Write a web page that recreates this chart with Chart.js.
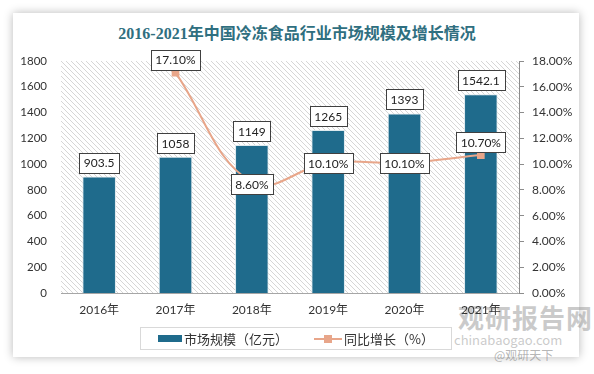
<!DOCTYPE html>
<html>
<head>
<meta charset="utf-8">
<script src="https://cdn.jsdelivr.net/npm/chart.js@4.4.1/dist/chart.umd.min.js"></script>
<style>
    html, body { margin: 0; padding: 0; background: #fff; }
    #wrap { position: relative; width: 594px; height: 374px; overflow: hidden; }
    #card {
        position: absolute; left: 13px; top: 13px; width: 566px; height: 344px;
        background: #fff; box-shadow: 0 0 9px rgba(0, 0, 0, 0.28);
    }
    #title {
        position: absolute; left: 0; top: 20px; width: 594px; text-align: center;
        font: bold 16px "Liberation Serif", "Noto Sans CJK SC", serif; color: #2f6f80;
    }
    #legend {
        position: absolute; left: 140px; top: 327px; width: 312px; height: 23px;
        border: 1px solid #d9d9d9; box-sizing: border-box;
        font: 13px "Noto Sans CJK SC", sans-serif; color: #333;
        display: flex; align-items: center; justify-content: center; gap: 26px;
    }
    .lg { display: flex; align-items: center; }
    .sw-bar { width: 24px; height: 7px; background: #1f6b8c; margin-right: 2px; }
    .sw-line { position: relative; width: 28px; height: 2px; background: #e8a68a; margin-right: 2px; }
    .sw-line span { position: absolute; left: 10px; top: -3px; width: 8px; height: 8px; background: #e8a68a; }
    #wm { position: absolute; left: 458px; top: 302px; white-space: nowrap; color: rgba(150,150,150,0.5); font-family: "Noto Sans CJK SC", sans-serif; }
    #wm .a { font-size: 26px; font-weight: bold; letter-spacing: 1px; line-height: 30px; }
    #wm .b { font-size: 13px; line-height: 15px; margin-left: -4px; }
    #wm .c { font-size: 12px; line-height: 16px; margin-left: 36px; color: rgba(120,120,120,0.55); }
    canvas { position: absolute; left: 0; top: 0; }
</style>
</head>
<body>
<div id="wrap">
    <div id="card"></div>
    <div id="title">2016-2021年中国冷冻食品行业市场规模及增长情况</div>
    <div id="wm"><div class="a">观研报告网</div><div class="b">chinabaogao.com</div><div class="c">@观研天下</div></div>
    <canvas id="chart" width="594" height="374"></canvas>
    <div id="legend">
        <div class="lg"><div class="sw-bar"></div>市场规模（亿元）</div>
        <div class="lg"><div class="sw-line"><span></span></div>同比增长（%）</div>
    </div>
</div>
<script>
const years = ["2016年", "2017年", "2018年", "2019年", "2020年", "2021年"];
const marketSize = [903.5, 1058, 1149, 1265, 1393, 1542.1];
const growthRate = [null, 17.1, 8.6, 10.1, 10.1, 10.7];
const sizeLabels = ["903.5", "1058", "1149", "1265", "1393", "1542.1"];
const rateLabels = ["", "17.10%", "8.60%", "10.10%", "10.10%", "10.70%"];

// diagonal hatch for the plot background
function makeHatch() {
    const c = document.createElement("canvas");
    c.width = 5; c.height = 5;
    const g = c.getContext("2d");
    g.strokeStyle = "#d6d6d6";
    g.lineWidth = 1;
    g.beginPath();
    g.moveTo(-1, -1); g.lineTo(6, 6);
    g.moveTo(-1, 4); g.lineTo(1, 6);
    g.moveTo(4, -1); g.lineTo(6, 1);
    g.stroke();
    return g.createPattern(c, "repeat");
}

const hatchPlugin = {
    id: "hatch",
    beforeDatasetsDraw(chart) {
        const { ctx, chartArea: a } = chart;
        ctx.save();
        ctx.fillStyle = makeHatch();
        ctx.fillRect(a.left, a.top, a.right - a.left, a.bottom - a.top);
        ctx.restore();
    }
};

function drawBox(ctx, text, cx, cy) {
    ctx.font = "12px Lato, sans-serif";
    const w = ctx.measureText(text).width + 9;
    const h = 20;
    ctx.fillStyle = "#fff";
    ctx.fillRect(Math.round(cx - w / 2) + 0.5, Math.round(cy - h / 2) + 0.5, Math.round(w), h);
    ctx.strokeStyle = "#404040";
    ctx.lineWidth = 1;
    ctx.strokeRect(Math.round(cx - w / 2) + 0.5, Math.round(cy - h / 2) + 0.5, Math.round(w), h);
    ctx.fillStyle = "#222";
    ctx.textAlign = "center";
    ctx.textBaseline = "middle";
    ctx.fillText(text, cx, cy + 1);
}

const labelPlugin = {
    id: "boxLabels",
    afterDatasetsDraw(chart) {
        const ctx = chart.ctx;
        ctx.save();
        chart.getDatasetMeta(1).data.forEach((bar, i) => {
            drawBox(ctx, sizeLabels[i], bar.x, bar.y - 14);
        });
        // line labels: some sit above the point, others centred on it
        const lift = [0, 13, -2, 0, 0, 13];
        chart.getDatasetMeta(0).data.forEach((pt, i) => {
            if (growthRate[i] === null) return;
            drawBox(ctx, rateLabels[i], pt.x, pt.y - lift[i]);
        });
        ctx.restore();
    }
};

new Chart(document.getElementById("chart"), {
    data: {
        labels: years,
        datasets: [
            {
                type: "line",
                label: "同比增长（%）",
                data: growthRate,
                yAxisID: "y1",
                borderColor: "#e8a68a",
                backgroundColor: "#e8a68a",
                borderWidth: 2,
                tension: 0.4,
                pointStyle: "rect",
                pointRadius: 4,
                order: 0
            },
            {
                type: "bar",
                label: "市场规模（亿元）",
                data: marketSize,
                yAxisID: "y",
                backgroundColor: "#1f6b8c",
                borderColor: "#dde9ee",
                borderWidth: 1,
                barPercentage: 0.44,
                categoryPercentage: 1,
                order: 1
            }
        ]
    },
    plugins: [hatchPlugin, labelPlugin],
    options: {
        responsive: false,
        animation: false,
        layout: { padding: { top: 61, bottom: 51, left: 0, right: 0 } },
        plugins: { legend: { display: false }, title: { display: false }, tooltip: { enabled: false } },
        scales: {
            x: {
                grid: { display: false, drawTicks: false },
                border: { display: true, color: "#a6a6a6" },
                ticks: { color: "#333", font: { size: 12, family: "Lato, 'Noto Sans CJK SC'" }, padding: 10 },
                afterFit(s) { s.height = 30; }
            },
            y: {
                position: "left",
                min: 0, max: 1800,
                ticks: { stepSize: 200, color: "#333", font: { size: 11.5, family: "Lato" }, padding: 14, callback: v => String(v) },
                grid: { display: false, drawTicks: false },
                border: { display: false },
                afterFit(s) { s.width = 61; }
            },
            y1: {
                position: "right",
                min: 0, max: 18,
                ticks: {
                    stepSize: 2, color: "#333", font: { size: 12, family: "Lato" }, padding: 8,
                    callback: v => v.toFixed(2) + "%"
                },
                grid: { drawOnChartArea: false, tickLength: 5, color: "#8c8c8c" },
                border: { display: true, color: "#8c8c8c" },
                afterFit(s) { s.width = 75; }
            }
        }
    }
});
</script>
</body>
</html>
